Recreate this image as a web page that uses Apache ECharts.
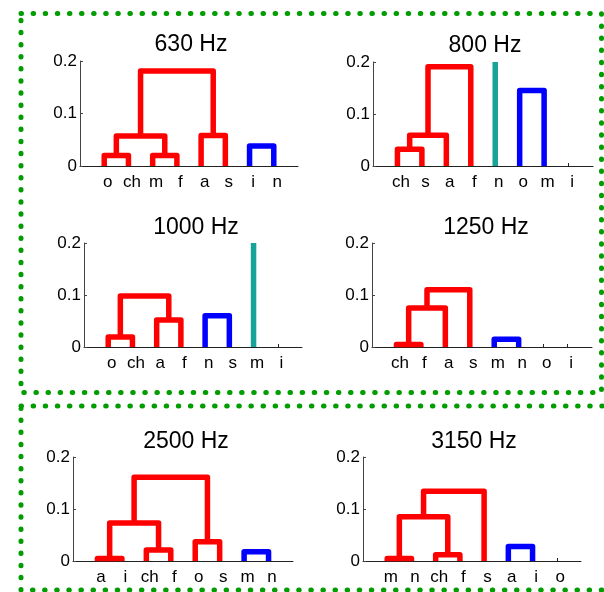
<!DOCTYPE html>
<html><head><meta charset="utf-8">
<script src="https://cdn.jsdelivr.net/npm/echarts@6/dist/echarts.min.js"></script>
<style>html,body{margin:0;padding:0;background:#fff}#c{width:604px;height:592px}</style>
</head><body><div id="c"></div>
<script>
// ---- data ----
const titles = ['630 Hz', '800 Hz', '1000 Hz', '1250 Hz', '2500 Hz', '3150 Hz'];
const yTickLabels = ['0', '0.1', '0.2'];
const yMax = 0.2;

// leaves in display order; merges: [nodeA, nodeB, height, colour] (leaves 1..n, new nodes n+1, n+2, ...)
const leaves630 = ['o', 'ch', 'm', 'f', 'a', 's', 'i', 'n'];
const merges630 = [[1, 2, 0.020, 'r'], [3, 4, 0.020, 'r'], [9, 10, 0.057, 'r'], [5, 6, 0.058, 'r'], [11, 12, 0.181, 'r'], [7, 8, 0.038, 'b']];
const spikes630 = [];

const leaves800 = ['ch', 's', 'a', 'f', 'n', 'o', 'm', 'i'];
const merges800 = [[1, 2, 0.032, 'r'], [9, 3, 0.059, 'r'], [10, 4, 0.191, 'r'], [6, 7, 0.145, 'b']];
const spikes800 = [5];

const leaves1000 = ['o', 'ch', 'a', 'f', 'n', 's', 'm', 'i'];
const merges1000 = [[1, 2, 0.019, 'r'], [3, 4, 0.052, 'r'], [9, 10, 0.098, 'r'], [5, 6, 0.060, 'b']];
const spikes1000 = [7];

const leaves1250 = ['ch', 'f', 'a', 's', 'm', 'n', 'o', 'i'];
const merges1250 = [[1, 2, 0.005, 'r'], [9, 3, 0.075, 'r'], [10, 4, 0.110, 'r'], [5, 6, 0.015, 'b']];
const spikes1250 = [];

const leaves2500 = ['a', 'i', 'ch', 'f', 'o', 's', 'm', 'n'];
const merges2500 = [[1, 2, 0.005, 'r'], [3, 4, 0.021, 'r'], [9, 10, 0.073, 'r'], [5, 6, 0.037, 'r'], [11, 12, 0.161, 'r'], [7, 8, 0.018, 'b']];
const spikes2500 = [];

const leaves3150 = ['m', 'n', 'ch', 'f', 's', 'a', 'i', 'o'];
const merges3150 = [[1, 2, 0.005, 'r'], [3, 4, 0.012, 'r'], [9, 10, 0.085, 'r'], [11, 5, 0.134, 'r'], [6, 7, 0.028, 'b']];
const spikes3150 = [];

// ---- styling / layout ----
const COLORS = { r: '#ff0000', b: '#0000ff', t: '#17a398' };
const FONT = 'Liberation Sans, Arial, sans-serif';
const panels = [
  { leaves: leaves630, merges: merges630, spikes: spikes630, grid: { left: 80, top: 61, width: 218, height: 105 }, title: [191, 33] },
  { leaves: leaves800, merges: merges800, spikes: spikes800, grid: { left: 373, top: 62, width: 220, height: 104 }, title: [485, 34] },
  { leaves: leaves1000, merges: merges1000, spikes: spikes1000, grid: { left: 84, top: 243, width: 218, height: 104 }, title: [196, 216] },
  { leaves: leaves1250, merges: merges1250, spikes: spikes1250, grid: { left: 372, top: 243, width: 220, height: 104 }, title: [486, 216] },
  { leaves: leaves2500, merges: merges2500, spikes: spikes2500, grid: { left: 73, top: 457, width: 220, height: 104 }, title: [186, 430] },
  { leaves: leaves3150, merges: merges3150, spikes: spikes3150, grid: { left: 363, top: 457, width: 218, height: 104 }, title: [474, 430] }
];

function buildLinks(leaves, merges, spikes) {
  const n = leaves.length;
  const pos = {}, hgt = {};
  for (let i = 1; i <= n; i++) { pos[i] = i; hgt[i] = 0; }
  const links = [];
  merges.forEach((m, k) => {
    const [a, b, h, c] = m;
    const id = n + k + 1;
    links.push({ v: [pos[a], hgt[a], pos[b], hgt[b], h], c: c });
    pos[id] = (pos[a] + pos[b]) / 2;
    hgt[id] = h;
  });
  spikes.forEach(i => links.push({ v: [i, 0, i, 0, yMax], c: 't' }));
  return links;
}

const option = {
  animation: false,
  backgroundColor: '#fff',
  title: [], grid: [], xAxis: [], yAxis: [], series: [],
  graphic: [
    { type: 'rect', silent: true, shape: { x: 21, y: 13.5, width: 580.5, height: 379 },
      style: { fill: 'none', stroke: '#009c00', lineWidth: 5, lineDash: [0.5, 11.6], lineCap: 'round' } },
    { type: 'rect', silent: true, shape: { x: 21, y: 406, width: 640, height: 184 },
      style: { fill: 'none', stroke: '#009c00', lineWidth: 5, lineDash: [0.5, 11.6], lineCap: 'round' } }
  ]
};

panels.forEach((p, i) => {
  const n = p.leaves.length;
  const idx = p.leaves.map((_, k) => k + 1);
  option.title.push({
    text: titles[i], left: p.title[0], top: p.title[1], textAlign: 'center', padding: 0,
    textStyle: { fontSize: 23, fontWeight: 'normal', color: '#000', fontFamily: FONT }
  });
  option.grid.push(Object.assign({ containLabel: false }, p.grid));
  option.xAxis.push({
    gridIndex: i, type: 'value', min: 0, max: n + 1, interval: 1,
    axisLine: { show: true, onZero: false, lineStyle: { color: '#222', width: 1 } },
    axisTick: { show: true, inside: true, length: 3, customValues: idx, lineStyle: { color: '#222' } },
    axisLabel: { customValues: idx, fontSize: 17, color: '#000', fontFamily: FONT, margin: 8, padding: [0, 0, 0, 7],
      formatter: v => p.leaves[v - 1] || '' },
    splitLine: { show: false }
  });
  option.yAxis.push({
    gridIndex: i, type: 'value', min: 0, max: yMax, interval: 0.1,
    axisLine: { show: true, lineStyle: { color: '#444', width: 1 } },
    axisTick: { show: true, inside: true, length: 3, lineStyle: { color: '#444' } },
    axisLabel: { fontSize: 17, color: '#000', fontFamily: FONT, margin: 3,
      formatter: v => yTickLabels[Math.round(v * 10)] },
    splitLine: { show: false }
  });
  const links = buildLinks(p.leaves, p.merges, p.spikes);
  option.series.push({
    type: 'custom', xAxisIndex: i, yAxisIndex: i, silent: true,
    data: links.map(l => l.v),
    renderItem: (params, api) => {
      const l = links[params.dataIndex];
      const [x1, y1, x2, y2, h] = l.v;
      const pts = (x1 === x2)
        ? [[x1, y1], [x1, h]]
        : [[x1, y1], [x1, h], [x2, h], [x2, y2]];
      return {
        type: 'polyline',
        shape: { points: pts.map(q => api.coord(q)) },
        style: { fill: 'none', stroke: COLORS[l.c], lineWidth: 5.5, lineJoin: 'round', lineCap: 'butt' }
      };
    }
  });
});

const chart = echarts.init(document.getElementById('c'));
chart.setOption(option);
</script>
</body></html>
